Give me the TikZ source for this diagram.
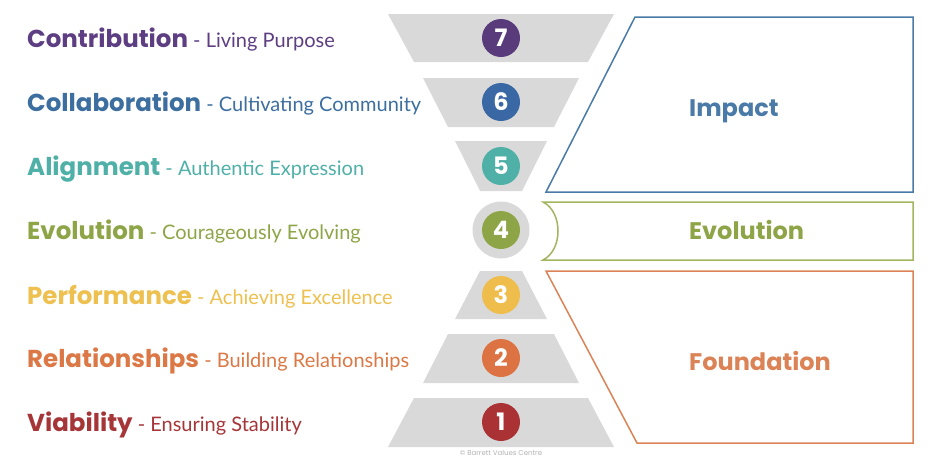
\documentclass[tikz,border=0pt]{standalone}
\usepackage{fontspec}
\usepackage{xcolor}
\newfontfamily\headfont{Poppins}
\newfontfamily\subfont{Lato}
\definecolor{tiergrey}{HTML}{D9D9D9}
\definecolor{contrib}{HTML}{5E3E82}
\definecolor{collab}{HTML}{3C6E9F}
\definecolor{align}{HTML}{4FB0A8}
\definecolor{evol}{HTML}{8DA547}
\definecolor{perf}{HTML}{EDC04F}
\definecolor{relat}{HTML}{DB7845}
\definecolor{viab}{HTML}{A63538}
\definecolor{impactline}{HTML}{4A7AA8}
\definecolor{evolline}{HTML}{A2B560}
\definecolor{foundline}{HTML}{DB8356}

\begin{document}
\begin{tikzpicture}[x=1pt, y=-1pt, font=\subfont,
    tier/.style={fill=tiergrey, draw=none},
    num/.style={circle, minimum size=38pt, inner sep=0pt, text=white, font=\headfont\bfseries\fontsize{24}{24}\selectfont},
    level/.style={anchor=base west, inner sep=0pt, font=\subfont\fontsize{20}{20}\selectfont},
    group/.style={anchor=base west, inner sep=0pt, font=\headfont\bfseries\fontsize{24}{24}\selectfont},
    box/.style={line width=1.5pt, line join=miter}]
  \useasboundingbox (0,0) rectangle (937,467);

  % funnel above, pyramid below
  \fill[tier] (388,14) -- (614,14) -- (588,62) -- (414,62) -- cycle;
  \fill[tier] (423,78) -- (579,78) -- (554,127) -- (448,127) -- cycle;
  \fill[tier] (455,141) -- (547,141) -- (522,191) -- (480,191) -- cycle;
  \fill[tier] (480,271) -- (522,271) -- (547,319) -- (455,319) -- cycle;
  \fill[tier] (448,334) -- (554,334) -- (579,383) -- (423,383) -- cycle;
  \fill[tier] (414,398) -- (588,398) -- (614,447) -- (388,447) -- cycle;
  \node (ring4) at (501,230) [circle, fill=tiergrey, minimum size=57pt, inner sep=0pt] {};

  % numbered circles
  \node (n7) at (501,38) [num, fill=contrib!95!black] {7};
  \node (n6) at (501,102) [num, fill=collab!95!blue] {6};
  \node (n5) at (501,166) [num, fill=align] {5};
  \node (n4) at (501,230) [num, fill=evol] {4};
  \node (n3) at (501,295) [num, fill=perf!95!orange] {3};
  \node (n2) at (501,358) [num, fill=relat!95!red] {2};
  \node (n1) at (501,422) [num, fill=viab!95!red] {1};

  % level names
  \node (contribution) at (27,47) [level, text=contrib] {{\headfont\bfseries\fontsize{24.5}{24}\selectfont Contribution} - Living Purpose};
  \node (collaboration) at (27,111) [level, text=collab] {{\headfont\bfseries\fontsize{24.5}{24}\selectfont Collaboration} - Cultivating Community};
  \node (alignment) at (27,175) [level, text=align] {{\headfont\bfseries\fontsize{24.5}{24}\selectfont Alignment} - Authentic Expression};
  \node (evolution) at (27,239) [level, text=evol] {{\headfont\bfseries\fontsize{24.5}{24}\selectfont Evolution} - Courageously Evolving};
  \node (performance) at (27,304) [level, text=perf] {{\headfont\bfseries\fontsize{24.5}{24}\selectfont Performance} - Achieving Excellence};
  \node (relationships) at (27,367) [level, text=relat] {{\headfont\bfseries\fontsize{24.5}{24}\selectfont Relationships} - Building Relationships};
  \node (viability) at (27,431) [level, text=viab] {{\headfont\bfseries\fontsize{24.5}{24}\selectfont Viability} - Ensuring Stability};

  % groups on the right
  \draw[box, draw=impactline] (635,17) -- (913,17) -- (913,192) -- (546,192) -- cycle;
  \draw[box, draw=evolline] (543,202) -- (913,202) -- (913,260) -- (543,260) .. controls (563,250) and (563,212) .. (543,202) -- cycle;
  \draw[box, draw=foundline] (546,271) -- (913,271) -- (913,443) -- (637,443) -- cycle;
  \node (impact) at (689,116) [group, text=impactline] {Impact};
  \node (evolgroup) at (689,239) [group, text=evol] {Evolution};
  \node (foundation) at (689,370) [group, text=foundline] {Foundation};

  \node (credit) at (501,453) [font=\headfont\fontsize{7}{7}\selectfont, text=black!30, inner sep=0pt] {© Barrett Values Centre};
\end{tikzpicture}
\end{document}
